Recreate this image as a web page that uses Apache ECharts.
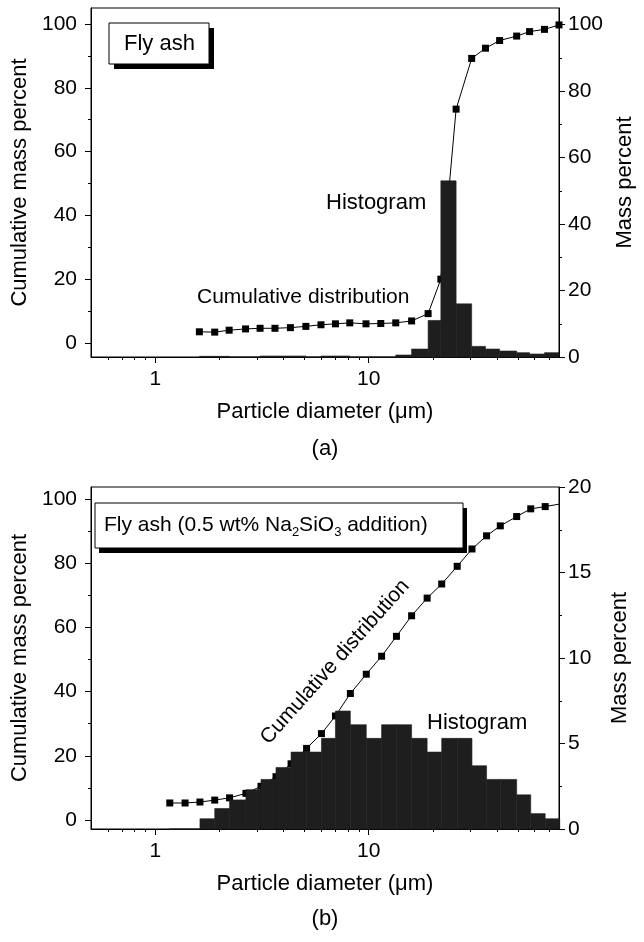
<!DOCTYPE html>
<html><head><meta charset="utf-8">
<script src="https://cdn.jsdelivr.net/npm/echarts@6/dist/echarts.min.js"></script>
<style>html,body{margin:0;padding:0;background:#fff}#c{width:644px;height:942px}</style>
</head><body><div id="c"></div>
<script>
// ---- data ----
// Panel (a): Fly ash
const sizeA = [1.61, 1.90, 2.22, 2.65, 3.10, 3.64, 4.30, 5.08, 5.98, 6.99, 8.16, 9.72, 11.4, 13.4, 15.9, 19.0, 21.8, 25.7, 30.4, 35.3, 41.1, 49.4, 56.8, 66.7, 78.0];
const cumA  = [3.5, 3.4, 4.0, 4.4, 4.6, 4.6, 4.8, 5.2, 5.7, 6.0, 6.3, 6.0, 6.1, 6.3, 6.9, 9.2, 20, 73.3, 89.2, 92.4, 94.8, 96.2, 97.6, 98.3, 99.7];
const histA = [0.2, 0.2, 0, 0, 0.3, 0.3, 0.3, 0, 0.3, 0.3, 0, 0, 0, 0.6, 2.4, 11, 53, 16, 3.2, 2.4, 1.8, 1.3, 0.9, 1.3];
// Panel (b): Fly ash (0.5 wt% Na2SiO3 addition)
const sizeB = [1.17, 1.38, 1.62, 1.90, 2.23, 2.66, 3.13, 3.68, 4.33, 5.12, 6.01, 6.99, 8.21, 9.75, 11.5, 13.5, 15.9, 18.8, 22.0, 26.0, 30.5, 35.7, 41.4, 49.4, 57.5, 67.2, 78.6];
const cumB  = [5.3, 5.3, 5.6, 6.2, 6.9, 8.3, 10.5, 13.5, 17.5, 22.3, 26.9, 32.4, 39.4, 45.4, 51.0, 57.2, 63.6, 69.1, 73.5, 79.0, 84.4, 88.5, 91.6, 94.5, 96.9, 97.6, 98.4];
const histB = [0, 0, 0.6, 1.2, 1.7, 2.3, 2.9, 3.6, 4.5, 4.5, 5.3, 6.9, 6.1, 5.3, 6.1, 6.1, 5.3, 4.5, 5.3, 5.3, 3.7, 2.9, 2.9, 2.0, 0.9, 0.6];
// ticks
const xMajorTicks = [1, 10];
const xMinorTicks = [0.6, 0.7, 0.8, 0.9, 2, 3, 4, 5, 6, 7, 8, 9, 20, 30, 40, 50, 60, 70];
const leftTicks = [0, 20, 40, 60, 80, 100];
const leftMinor = [10, 30, 50, 70, 90];
const rightTicksA = [0, 20, 40, 60, 80, 100];
const rightMinorA = [10, 30, 50, 70, 90];
const rightTicksB = [0, 5, 10, 15, 20];
const rightMinorB = [2.5, 7.5, 12.5, 17.5];

const FONT = "'Liberation Sans', Arial, sans-serif";
const FS = 21;
const X_MIN = 0.5, X_MAX = 78;
const lg = v => Math.log10(v);

const grids = [
  {left: 91, top: 8, width: 468, height: 349, show: true, borderColor: '#000', borderWidth: 1},
  {left: 91, top: 487, width: 468, height: 342, show: true, borderColor: '#000', borderWidth: 1}
];
const panels = [
  {size: sizeA, cum: cumA, hist: histA, lmin: -4.4, lmax: 105, rmax: 105, rt: rightTicksA, rm: rightMinorA},
  {size: sizeB, cum: cumB, hist: histB, lmin: -2.8, lmax: 103.7, rmax: 20, rt: rightTicksB, rm: rightMinorB}
];

const xAxis = [], yAxis = [], series = [];
const lab = {color: '#000', fontSize: FS, fontFamily: FONT};
const noLine = {show: false, onZero: false};
panels.forEach((p, g) => {
  const xi = xAxis.length;
  xAxis.push({gridIndex: g, type: 'log', logBase: 10, min: X_MIN, max: X_MAX, position: 'bottom',
    axisLine: {show: true, onZero: false, lineStyle: {color: '#000', width: 1}}, axisTick: {show: false},
    axisLabel: {show: false}, splitLine: {show: false}});
  xAxis.push({gridIndex: g, type: 'value', min: lg(X_MIN), max: lg(X_MAX), position: 'bottom',
    axisLine: noLine, splitLine: {show: false},
    axisTick: {show: true, length: 6, customValues: xMajorTicks.map(lg), lineStyle: {color: '#000'}},
    axisLabel: Object.assign({customValues: xMajorTicks.map(lg), margin: 12,
      formatter: v => String(Math.round(Math.pow(10, v)))}, lab),
    name: 'Particle diameter (\u03bcm)', nameLocation: 'middle', nameGap: 44,
    nameTextStyle: {color: '#000', fontSize: 22, fontFamily: FONT}});
  xAxis.push({gridIndex: g, type: 'value', min: lg(X_MIN), max: lg(X_MAX), position: 'bottom',
    axisLine: noLine, splitLine: {show: false},
    axisTick: {show: true, length: 3, customValues: xMinorTicks.map(lg), lineStyle: {color: '#000'}},
    axisLabel: {show: false}});
  const yi = yAxis.length;
  yAxis.push({gridIndex: g, type: 'value', position: 'left', min: p.lmin, max: p.lmax,
    axisLine: {show: true, onZero: false, lineStyle: {color: '#000'}}, splitLine: {show: false},
    axisTick: {show: true, length: 6, customValues: leftTicks, lineStyle: {color: '#000'}},
    axisLabel: Object.assign({customValues: leftTicks, margin: 14}, lab),
    name: 'Cumulative mass percent', nameLocation: 'middle', nameGap: 55, nameRotate: 90,
    nameTextStyle: {color: '#000', fontSize: 22, fontFamily: FONT}});
  yAxis.push({gridIndex: g, type: 'value', position: 'left', min: p.lmin, max: p.lmax,
    axisLine: noLine, splitLine: {show: false},
    axisTick: {show: true, length: 3, customValues: leftMinor, lineStyle: {color: '#000'}},
    axisLabel: {show: false}});
  yAxis.push({gridIndex: g, type: 'value', position: 'right', min: 0, max: p.rmax,
    axisLine: {show: true, onZero: false, lineStyle: {color: '#000'}}, splitLine: {show: false},
    axisTick: {show: true, length: 6, customValues: p.rt, lineStyle: {color: '#000'}},
    axisLabel: Object.assign({customValues: p.rt, margin: 9}, lab),
    name: 'Mass percent', nameLocation: 'middle', nameGap: 50, nameRotate: 90,
    nameTextStyle: {color: '#000', fontSize: 22, fontFamily: FONT}});
  yAxis.push({gridIndex: g, type: 'value', position: 'right', min: 0, max: p.rmax,
    axisLine: noLine, splitLine: {show: false},
    axisTick: {show: true, length: 3, customValues: p.rm, lineStyle: {color: '#000'}},
    axisLabel: {show: false}});

  series.push({type: 'line', xAxisIndex: xi, yAxisIndex: yi, z: 2,
    data: p.size.map((d, i) => [d, p.cum[i]]),
    symbol: 'rect', symbolSize: 7, itemStyle: {color: '#000'},
    lineStyle: {color: '#000', width: 1}, animation: false});
  series.push({type: 'custom', xAxisIndex: xi, yAxisIndex: yi + 2, z: 3,
    data: p.hist.map((v, i) => [p.size[i], p.size[i + 1], v]),
    encode: {x: [0, 1], y: 2},
    renderItem: (params, api) => {
      const a = api.coord([api.value(0), 0]);
      const b = api.coord([api.value(1), api.value(2)]);
      return {type: 'rect', shape: {x: a[0], y: b[1], width: b[0] - a[0], height: a[1] - b[1]},
        style: {fill: '#1e1e1e', stroke: '#1e1e1e', lineWidth: 0.6}};
    }, animation: false});
});

const txt = (x, y, text, size) => ({type: 'text', x, y,
  style: {text, fill: '#000', font: `${size || 22}px ${FONT}`, textAlign: 'left', textVerticalAlign: 'middle'}});

const graphic = [
  // panel (a) label box
  {type: 'rect', shape: {x: 114, y: 28, width: 100, height: 41}, style: {fill: '#000'}},
  {type: 'rect', shape: {x: 109, y: 23, width: 100, height: 41}, style: {fill: '#fff', stroke: '#000', lineWidth: 1}},
  txt(124, 44, 'Fly ash'),
  txt(326, 203, 'Histogram'),
  txt(197, 297, 'Cumulative distribution', 21),
  {type: 'text', x: 325, y: 449, style: {text: '(a)', fill: '#000', font: `22px ${FONT}`, textAlign: 'center', textVerticalAlign: 'middle'}},
  // panel (b) label box
  {type: 'rect', shape: {x: 99, y: 508, width: 368, height: 45}, style: {fill: '#000'}},
  {type: 'rect', shape: {x: 95, y: 503, width: 368, height: 45}, style: {fill: '#fff', stroke: '#000', lineWidth: 1}},
  {type: 'text', x: 104, y: 511, style: {text: 'Fly ash (0.5 wt% Na{s|2}SiO{s|3} addition)', fill: '#000',
    font: `21px ${FONT}`, lineHeight: 28, textAlign: 'left', textVerticalAlign: 'top',
    rich: {s: {fontSize: 13, fontFamily: FONT, verticalAlign: 'bottom', lineHeight: 13, fill: '#000'}}}},
  txt(427, 723, 'Histogram'),
  {type: 'text', x: 335, y: 662, rotation: 48.3 * Math.PI / 180,
    style: {text: 'Cumulative distribution', fill: '#000', font: `21px ${FONT}`, textAlign: 'center', textVerticalAlign: 'middle'}},
  {type: 'text', x: 325, y: 919, style: {text: '(b)', fill: '#000', font: `22px ${FONT}`, textAlign: 'center', textVerticalAlign: 'middle'}}
];

const chart = echarts.init(document.getElementById('c'), null, {renderer: 'canvas'});
chart.setOption({animation: false, backgroundColor: '#fff', grid: grids, xAxis, yAxis, series, graphic});
</script></body></html>
